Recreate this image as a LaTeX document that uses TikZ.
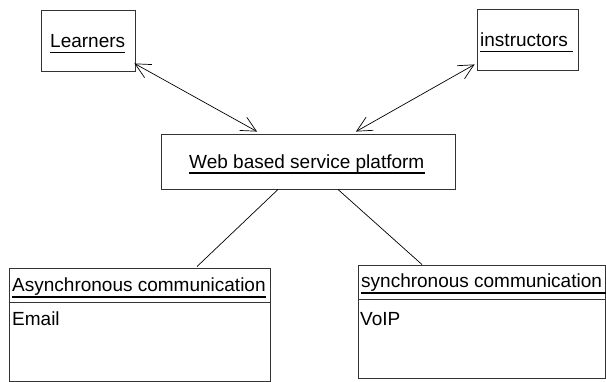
\documentclass[tikz,border=0pt]{standalone}
\usepackage{fontspec}
\setmainfont{Liberation Sans}
\usetikzlibrary{arrows.meta}
\begin{document}
\begin{tikzpicture}[x=1pt,y=-1pt,
  box/.style={draw=black!80, line width=0.9pt, inner sep=0pt},
  lbl/.style={inner sep=0pt, anchor=base west, font=\fontsize{19}{23}\selectfont},
  ul/.style={line width=1.7pt},
  sep/.style={draw=black!80, line width=0.9pt},
  arr/.style={{Straight Barb[length=15pt,width=15pt]}-{Straight Barb[length=15pt,width=15pt]}, line width=0.7pt},
  link/.style={line width=0.7pt}]
\useasboundingbox (0,0) rectangle (606,381);
\clip (0,0) rectangle (606,381);
\fill[white] (0,0) rectangle (606,381);

% boxes
\node[box, minimum width=94pt,  minimum height=61pt]  (learners)    at (88,40.5)    {};
\node[box, minimum width=101pt, minimum height=61pt]  (instructors) at (527.5,39.5) {};
\node[box, minimum width=294pt, minimum height=55pt]  (web)         at (308,161.5)  {};
\node[box, minimum width=261pt, minimum height=113pt] (async)       at (139.5,324.5){};
\node[box, minimum width=247pt, minimum height=113pt] (sync)        at (481.5,321.5){};

% header separators of the two communication boxes
\coordinate (adiv) at (0,302);
\coordinate (sdiv) at (0,299);
\draw[sep] (async.west |- adiv) -- (async.east |- adiv);
\draw[sep] (sync.west |- sdiv) -- (sync.east |- sdiv);

% labels
\node[lbl] (tL) at (50,47.5)  {Learners};
\node[lbl] (tI) at (480,46.5) {instructors};
\node[lbl] (tW) at (189,168)  {Web based service platform};
\node[lbl] (tA) at (12,291)   {Asynchronous communication};
\node[lbl] (tE) at (12,325)   {Email};
\node[lbl] (tS) at (361,287)  {synchronous communication};
\node[lbl] (tV) at (360,325)  {VoIP};

% underlines
\draw[ul] ([yshift=-5pt]tL.base west) -- ([yshift=-5pt]tL.base east);
\draw[ul] ([yshift=-5pt]tI.base west) -- ([shift={(5.3,5)}]tI.base east);
\draw[ul] ([yshift=-5pt]tW.base west) -- ([yshift=-5pt]tW.base east);
\draw[ul] ([yshift=-6pt]tA.base west) -- ([yshift=-6pt]tA.base east);
\draw[ul] ([yshift=-6pt]tS.base west) -- ([shift={(5.3,6)}]tS.base east);

% connectors
\draw[arr] ([shift={(-1,-8)}]learners.south east) -- ([shift={(-51,-2)}]web.north);
\draw[arr] ([shift={(-2,-6)}]instructors.south west) -- ([shift={(48,-2)}]web.north);
\draw[link] ([xshift=-30pt]web.south) -- ([shift={(57.5,-1)}]async.north);
\draw[link] ([xshift=30pt]web.south) -- ([xshift=-59.5pt]sync.north);
\end{tikzpicture}
\end{document}
